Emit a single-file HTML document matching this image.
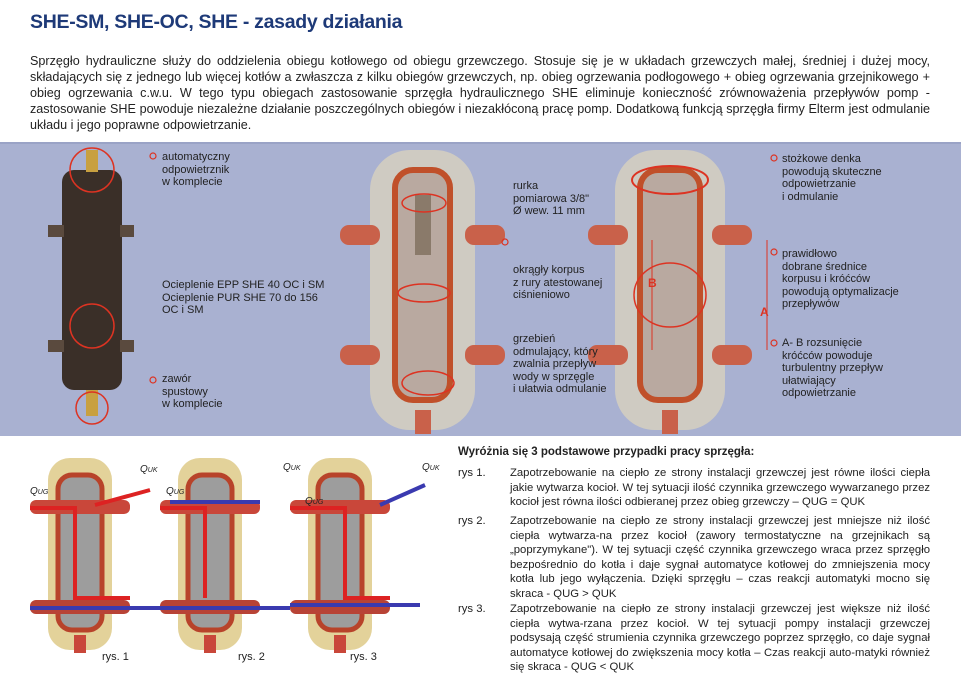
<!DOCTYPE html>
<html><head><meta charset="utf-8"><style>
*{margin:0;padding:0;box-sizing:border-box}
body{width:961px;height:686px;background:#fff;position:relative;overflow:hidden;font-family:"Liberation Sans","DejaVu Sans",sans-serif;color:#222}
.t{position:absolute}
h1{position:absolute;left:30px;top:11px;font-size:19.5px;color:#1e3a78;font-weight:bold;letter-spacing:-0.3px}
.p{position:absolute;left:30px;top:53px;width:900px;font-size:12.6px;line-height:16px;text-align:justify;text-align-last:left}
.band{position:absolute;left:0;top:142px;width:961px;height:294px;background:#a9b1d1;border-top:2px solid #9aa3c6}
.lab{position:absolute;font-size:11px;line-height:12.5px;color:#222}
.q{position:absolute;font-size:11.3px;line-height:14.5px}
.q .n{position:absolute;left:0;white-space:nowrap}
.q .b{position:absolute;left:52px;width:420px;text-align:justify;text-align-last:left}
</style></head><body>
<h1>SHE-SM, SHE-OC, SHE - zasady działania</h1>
<div class="p">Sprzęgło hydrauliczne służy do oddzielenia obiegu kotłowego od obiegu grzewczego. Stosuje się je w układach grzewczych małej, średniej i dużej mocy, składających się z jednego lub więcej kotłów a zwłaszcza z kilku obiegów grzewczych, np. obieg ogrzewania podłogowego + obieg ogrzewania grzejnikowego + obieg ogrzewania c.w.u. W tego typu obiegach zastosowanie sprzęgła hydraulicznego SHE eliminuje konieczność zrównoważenia przepływów pomp - zastosowanie SHE powoduje niezależne działanie poszczególnych obiegów i niezakłóconą pracę pomp. Dodatkową funkcją sprzęgła firmy Elterm jest odmulanie układu i jego poprawne odpowietrzanie.</div>
<div class="band"></div>
<svg class="t" style="left:0;top:0" width="961" height="686">
<rect x="62" y="170" width="60" height="220" rx="12" fill="#3a2f28"/>
<rect x="48" y="225" width="16" height="12" fill="#5a4a3e"/><rect x="120" y="225" width="14" height="12" fill="#5a4a3e"/>
<rect x="48" y="340" width="16" height="12" fill="#5a4a3e"/><rect x="120" y="340" width="14" height="12" fill="#5a4a3e"/>
<rect x="86" y="150" width="12" height="22" fill="#c8a040"/>
<rect x="86" y="390" width="12" height="26" fill="#c8a040"/>
<circle cx="92" cy="170" r="22" fill="none" stroke="#d32" stroke-width="1.5"/>
<circle cx="92" cy="326" r="22" fill="none" stroke="#d32" stroke-width="1.5"/>
<circle cx="92" cy="408" r="16" fill="none" stroke="#d32" stroke-width="1.5"/>
<g>
<rect x="370" y="150" width="105" height="280" rx="40" fill="#d6d0c0" opacity=".85"/>
<rect x="395" y="170" width="55" height="230" rx="18" fill="#b9a9a0" stroke="#c0502a" stroke-width="6"/>
<rect x="340" y="225" width="40" height="20" rx="9" fill="#c9614a"/><rect x="465" y="225" width="40" height="20" rx="9" fill="#c9614a"/>
<rect x="340" y="345" width="40" height="20" rx="9" fill="#c9614a"/><rect x="465" y="345" width="40" height="20" rx="9" fill="#c9614a"/>
<rect x="415" y="195" width="16" height="60" fill="#8a7a6a"/>
<rect x="415" y="410" width="16" height="24" fill="#c9614a"/>
<ellipse cx="424" cy="293" rx="26" ry="9" fill="none" stroke="#d32" stroke-width="1.5"/>
<ellipse cx="424" cy="203" rx="22" ry="9" fill="none" stroke="#d32" stroke-width="1.5"/>
<ellipse cx="428" cy="383" rx="26" ry="12" fill="none" stroke="#d32" stroke-width="1.5"/>
</g>
<g>
<rect x="615" y="150" width="110" height="280" rx="40" fill="#d6d0c0" opacity=".85"/>
<rect x="640" y="170" width="60" height="230" rx="18" fill="#b9a9a0" stroke="#c0502a" stroke-width="6"/>
<rect x="588" y="225" width="40" height="20" rx="9" fill="#c9614a"/><rect x="712" y="225" width="40" height="20" rx="9" fill="#c9614a"/>
<rect x="588" y="345" width="40" height="20" rx="9" fill="#c9614a"/><rect x="712" y="345" width="40" height="20" rx="9" fill="#c9614a"/>
<ellipse cx="670" cy="180" rx="38" ry="14" fill="none" stroke="#d32" stroke-width="2"/>
<ellipse cx="670" cy="295" rx="36" ry="32" fill="none" stroke="#d32" stroke-width="1.5"/>
<line x1="652" y1="240" x2="652" y2="350" stroke="#d32"/><line x1="767" y1="240" x2="767" y2="350" stroke="#d32"/>
<text x="648" y="287" fill="#d32" font-size="12" font-weight="bold">B</text>
<text x="760" y="316" fill="#d32" font-size="12" font-weight="bold">A</text>
<rect x="662" y="410" width="16" height="24" fill="#c9614a"/>
</g>
<g fill="none" stroke="#d32" stroke-width="1.2">
<circle cx="153" cy="156" r="3"/><circle cx="153" cy="380" r="3"/><circle cx="505" cy="242" r="3"/>
<circle cx="774" cy="158" r="3"/><circle cx="774" cy="252" r="3"/><circle cx="774" cy="343" r="3"/>
</g>
<g id="f">
<rect x="48" y="458" width="64" height="192" rx="22" fill="#e3d29a"/>
<rect x="58" y="475" width="44" height="155" rx="14" fill="#9d9d9d" stroke="#b8432a" stroke-width="5"/>
<rect x="30" y="500" width="100" height="14" rx="6" fill="#c9473a"/>
<rect x="30" y="600" width="100" height="14" rx="6" fill="#b84336"/>
<rect x="74" y="635" width="12" height="18" fill="#c9473a"/>
</g>
<use href="#f" x="130"/><use href="#f" x="260"/>
<g stroke-width="4" fill="none">
<path d="M30 508H75V598H130" stroke="#d22"/><path d="M160 608H30" stroke="#3a3ab0"/>
<path d="M150 490 L95 505" stroke="#d22"/>
<path d="M160 508H205V598" stroke="#d22"/><path d="M260 502H170" stroke="#3a3ab0"/><path d="M290 608H160" stroke="#3a3ab0"/>
<path d="M290 508H345V598H390" stroke="#d22"/><path d="M420 605H290" stroke="#3a3ab0"/><path d="M425 485 L380 505" stroke="#3a3ab0"/>
</g>
<g font-size="10" font-style="italic" fill="#222">
<text x="30" y="494">Q<tspan font-size="7">UG</tspan></text><text x="140" y="472">Q<tspan font-size="7">UK</tspan></text>
<text x="166" y="494">Q<tspan font-size="7">UG</tspan></text><text x="283" y="470">Q<tspan font-size="7">UK</tspan></text>
<text x="305" y="504">Q<tspan font-size="7">UG</tspan></text><text x="422" y="470">Q<tspan font-size="7">UK</tspan></text>
</g>
<g font-size="11" fill="#222"><text x="102" y="660">rys. 1</text><text x="238" y="660">rys. 2</text><text x="350" y="660">rys. 3</text></g>
</svg>
<div class="lab" style="left:162px;top:151px">automatyczny<br>odpowietrznik<br>w komplecie</div>
<div class="lab" style="left:162px;top:279px">Ocieplenie EPP SHE 40 OC i SM<br>Ocieplenie PUR SHE 70 do 156<br>OC i SM</div>
<div class="lab" style="left:162px;top:373px">zawór<br>spustowy<br>w komplecie</div>
<div class="lab" style="left:513px;top:180px">rurka<br>pomiarowa 3/8"<br>Ø wew. 11 mm</div>
<div class="lab" style="left:513px;top:264px">okrągły korpus<br>z rury atestowanej<br>ciśnieniowo</div>
<div class="lab" style="left:513px;top:333px">grzebień<br>odmulający, który<br>zwalnia przepływ<br>wody w sprzęgle<br>i ułatwia odmulanie</div>
<div class="lab" style="left:782px;top:153px">stożkowe denka<br>powodują skuteczne<br>odpowietrzanie<br>i odmulanie</div>
<div class="lab" style="left:782px;top:248px">prawidłowo<br>dobrane średnice<br>korpusu i króćców<br>powodują optymalizacje<br>przepływów</div>
<div class="lab" style="left:782px;top:337px">A- B rozsunięcie<br>króćców powoduje<br>turbulentny przepływ<br>ułatwiający<br>odpowietrzanie</div>
<div class="t" style="left:458px;top:446px;font-size:11.5px;font-weight:bold">Wyróżnia się 3 podstawowe przypadki pracy sprzęgła:</div>
<div class="q" style="left:458px;top:466px"><span class="n">rys 1.</span><div class="b">Zapotrzebowanie na ciepło ze strony instalacji grzewczej jest równe ilości ciepła jakie wytwarza kocioł. W tej sytuacji ilość czynnika grzewczego wywarzanego przez kocioł jest równa ilości odbieranej przez obieg grzewczy – QUG = QUK</div></div>
<div class="q" style="left:458px;top:514px"><span class="n">rys 2.</span><div class="b">Zapotrzebowanie na ciepło ze strony instalacji grzewczej jest mniejsze niż ilość ciepła wytwarza-na przez kocioł (zawory termostatyczne na grzejnikach są „poprzymykane"). W tej sytuacji część czynnika grzewczego wraca przez sprzęgło bezpośrednio do kotła i daje sygnał automatyce kotłowej do zmniejszenia mocy kotła lub jego wyłączenia. Dzięki sprzęgłu – czas reakcji automatyki mocno się skraca - QUG &gt; QUK</div></div>
<div class="q" style="left:458px;top:602px"><span class="n">rys 3.</span><div class="b">Zapotrzebowanie na ciepło ze strony instalacji grzewczej jest większe niż ilość ciepła wytwa-rzana przez kocioł. W tej sytuacji pompy instalacji grzewczej podsysają część strumienia czynnika grzewczego poprzez sprzęgło, co daje sygnał automatyce kotłowej do zwiększenia mocy kotła – Czas reakcji auto-matyki również się skraca - QUG &lt; QUK</div></div>
</body></html>
